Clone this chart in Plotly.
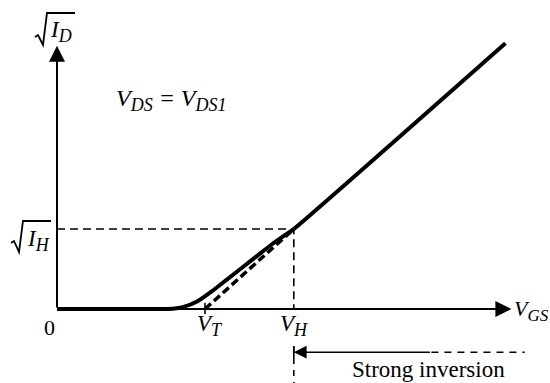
import plotly.graph_objects as go

# Transfer characteristic: sqrt(I_D) versus V_GS at V_DS = V_DS1 (arbitrary units)
v_gs = [0.0, 0.60, 0.75, 0.85, 0.95, 1.05, 1.15, 1.25, 1.35, 1.45, 1.55, 1.60, 3.03]
sqrt_id = [0.0, 0.0, 0.0, 0.015, 0.06, 0.14, 0.23, 0.32, 0.41, 0.50, 0.58, 0.62, 2.06]

V_T = 1.0          # threshold voltage (extrapolated)
V_H = 1.6          # onset of strong inversion
SQRT_I_H = 0.62    # sqrt(I_D) at V_H

X_END = 3.07       # tip of the V_GS axis arrow
Y_END = 2.04       # tip of the sqrt(I_D) axis arrow
Y_STRONG = -0.335  # level of the "Strong inversion" marker
X_SOLID_END = 2.53
X_DASH_END = 3.16

SERIF = "Liberation Serif, Times New Roman, serif"
INK = "#000000"

# drawing scale: 148 px per volt, 129 px per unit of sqrt(I_D), origin at (57, 309)
X0_PX, Y0_PX, SX, SY = 57, 309, 148.0, 129.0
X_RANGE = [(0 - X0_PX) / SX, (550 - X0_PX) / SX]
Y_RANGE = [(Y0_PX - 383) / SY, (Y0_PX - 0) / SY]


def gx(p):
    return (p - X0_PX) / SX


def gy(p):
    return (Y0_PX - p) / SY


fig = go.Figure()


def line(xs, ys, width, dash="solid", shape="linear"):
    fig.add_trace(go.Scatter(x=xs, y=ys, mode="lines",
                             line=dict(color=INK, width=width, dash=dash, shape=shape,
                                       smoothing=0.6 if shape == "spline" else None),
                             hoverinfo="skip", showlegend=False))


# main curve
line(v_gs, sqrt_id, 4, shape="spline")
# extrapolated tangent down to V_T
line([V_T, V_H], [0, SQRT_I_H], 3.5, dash="8px,4px")
# guide lines to sqrt(I_H) and V_H
line([0, V_H, V_H], [SQRT_I_H, SQRT_I_H, 0], 1.6, dash="8px,5px")
line([V_H, V_H], [gy(346), gy(383)], 1.6, dash="6px,6px")
# dashed continuation of the strong inversion marker
line([X_SOLID_END, X_DASH_END], [Y_STRONG, Y_STRONG], 1.6, dash="7px,6px")
# tick at V_T
line([V_T, V_T], [gy(314), gy(303)], 1.6)

annotations = [
    # axes with arrowheads
    dict(x=X_END, y=0, ax=0, ay=0, xref="x", yref="y", axref="x", ayref="y",
         showarrow=True, arrowhead=2, arrowsize=1.6, arrowwidth=2, arrowcolor=INK, text=""),
    dict(x=0, y=Y_END, ax=0, ay=0, xref="x", yref="y", axref="x", ayref="y",
         showarrow=True, arrowhead=2, arrowsize=1.6, arrowwidth=2, arrowcolor=INK, text=""),
    # strong inversion marker
    dict(x=V_H, y=Y_STRONG, ax=X_SOLID_END, ay=Y_STRONG, xref="x", yref="y", axref="x", ayref="y",
         showarrow=True, arrowhead=2, arrowsize=1.6, arrowwidth=1.6, arrowcolor=INK, text=""),
]


def sub(s, size):
    return f'<sub><span style="font-size:{size}px">{s}</span></sub>'


def label(text, xp, yp, size=21, italic=True, xanchor="left", yanchor="middle"):
    t = f"<i>{text}</i>" if italic else text
    annotations.append(dict(x=gx(xp), y=gy(yp), xref="x", yref="y", text=t, showarrow=False,
                            font=dict(family=SERIF, size=size, color=INK),
                            xanchor=xanchor, yanchor=yanchor))


label("I" + sub("D", 18), 48, 31, size=23)
label("I" + sub("H", 18), 25, 240, size=23)
label("0", 49, 327, size=22, italic=False, xanchor="center")
label("V" + sub("DS", 18) + " = V" + sub("DS1", 18), 114, 100, size=24)
label("V" + sub("GS", 17), 512, 310, size=22)
label("V" + sub("T", 18), 195, 325, size=23)
label("V" + sub("H", 18), 278, 325, size=23)
label("Strong inversion", 428, 369, size=23, italic=False, xanchor="center")


def radical(pts):
    d = "M " + " L ".join(f"{gx(a)},{gy(b)}" for a, b in pts)
    return dict(type="path", xref="x", yref="y", path=d, line=dict(color=INK, width=1.8))


shapes = [
    radical([(35, 37), (38, 35), (43, 45), (47, 13), (75, 13)]),
    radical([(11, 243), (14, 241), (19, 252), (23, 221), (51, 221)]),
    # left end tick of the strong inversion marker
    dict(type="line", xref="x", yref="y", x0=V_H, x1=V_H, y0=gy(346), y1=gy(358),
         line=dict(color=INK, width=1.6)),
]

fig.update_layout(
    width=550, height=383,
    margin=dict(l=0, r=0, t=0, b=0),
    paper_bgcolor="white", plot_bgcolor="white",
    xaxis=dict(range=X_RANGE, visible=False, fixedrange=True),
    yaxis=dict(range=Y_RANGE, visible=False, fixedrange=True),
    annotations=annotations, shapes=shapes,
    showlegend=False,
)

fig.write_html("out.html")
